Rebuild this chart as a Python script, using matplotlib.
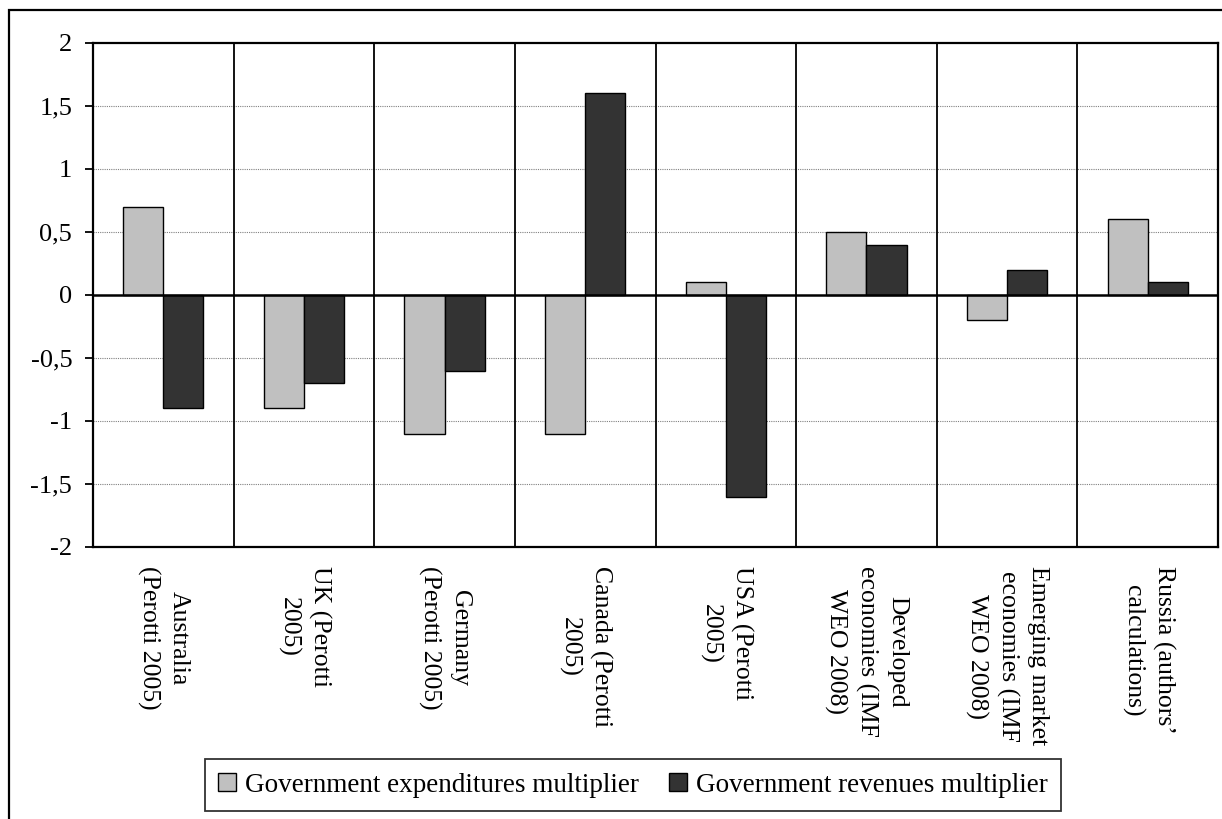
import matplotlib
matplotlib.use("Agg")
import matplotlib.pyplot as plt
from matplotlib.patches import Rectangle, Patch
import numpy as np

categories = [
    "Australia\n(Perotti 2005)",
    "UK (Perotti\n2005)",
    "Germany\n(Perotti 2005)",
    "Canada (Perotti\n2005)",
    "USA (Perotti\n2005)",
    "Developed\neconomies (IMF\nWEO 2008)",
    "Emerging market\neconomies (IMF\nWEO 2008)",
    "Russia (authors\u2019\ncalculations)",
]
expenditures = [0.7, -0.9, -1.1, -1.1, 0.1, 0.5, -0.2, 0.6]
revenues = [-0.9, -0.7, -0.6, 1.6, -1.6, 0.4, 0.2, 0.1]
series_names = ["Government expenditures multiplier", "Government revenues multiplier"]
yticks = [-2, -1.5, -1, -0.5, 0, 0.5, 1, 1.5, 2]
ytick_labels = ["-2", "-1,5", "-1", "-0,5", "0", "0,5", "1", "1,5", "2"]

plt.rcParams['font.family'] = ['Liberation Serif', 'DejaVu Serif']

W, H = 1222, 819
fig = plt.figure(figsize=(W / 100, H / 100), dpi=100)

# outer figure border
fig.patches.append(Rectangle((9 / W, -0.05), 1.1, 1 - 10 / H + 0.05,
                             transform=fig.transFigure, fill=False,
                             edgecolor='black', linewidth=1.6, zorder=0))

left, right, top, bottom = 93, 1218, 43, 547
ax = fig.add_axes([left / W, 1 - bottom / H, (right - left) / W, (bottom - top) / H])

n = len(categories)
x = np.arange(n)
bw = 0.285
ax.bar(x - bw / 2, expenditures, width=bw, color='#C0C0C0', edgecolor='black',
       linewidth=1.0, zorder=3, label=series_names[0])
ax.bar(x + bw / 2, revenues, width=bw, color='#333333', edgecolor='black',
       linewidth=1.0, zorder=3, label=series_names[1])

ax.set_xlim(-0.5, n - 0.5)
ax.set_ylim(-2, 2)

# category separators
for b in np.arange(0.5, n - 0.5, 1):
    ax.axvline(b, color='black', linewidth=1.3, zorder=2)

# grid
for yv in yticks[1:-1]:
    if yv != 0:
        ax.axhline(yv, color='#808080', linewidth=0.8, linestyle=(0, (1, 1)), zorder=1)
ax.axhline(0, color='black', linewidth=1.8, zorder=4)

ax.set_yticks(yticks)
ax.set_yticklabels(ytick_labels, fontsize=19)
ax.tick_params(axis='y', direction='out', length=6, width=1.3, pad=9)

ax.set_xticks(x)
ax.set_xticklabels(categories, fontsize=18.5, rotation=-90, va='top', ha='center',
                   multialignment='center', linespacing=1.45)
ax.tick_params(axis='x', length=0, pad=14)

for s in ax.spines.values():
    s.set_linewidth(1.6)
    s.set_color('black')

handles = [Patch(facecolor='#C0C0C0', edgecolor='black', linewidth=1.0),
           Patch(facecolor='#333333', edgecolor='black', linewidth=1.0)]
leg = fig.legend(handles, series_names, loc='center', bbox_to_anchor=(633 / W, 1 - 785 / H),
                 ncol=2, fontsize=19.5, frameon=True, fancybox=False, edgecolor='black',
                 handlelength=0.65, handleheight=0.65, handletextpad=0.35, columnspacing=1.1,
                 borderpad=0.5, borderaxespad=0)
leg.get_frame().set_linewidth(1.3)

fig.savefig("out.png", dpi=100)
